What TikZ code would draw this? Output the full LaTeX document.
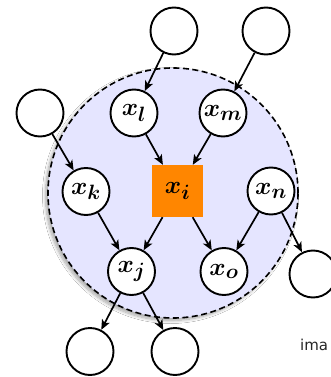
\documentclass[tikz,border=0pt]{standalone}
\usepackage{fontspec}
\newfontfamily\labelfont{DejaVu Sans}
\usetikzlibrary{arrows.meta,shadows.blur}
\DeclareMathSizes{27}{27}{20}{15}
\begin{document}
\begin{tikzpicture}[x=1pt,y=-1pt,
  var/.style={circle,draw=black,line width=1.9pt,fill=white,minimum size=47pt,inner sep=0pt,font=\fontsize{27}{30}\selectfont\boldmath},
  focus/.style={rectangle,fill=orange!95!yellow,minimum width=51pt,minimum height=52pt,inner sep=0pt,font=\fontsize{27}{30}\selectfont\boldmath},
  edge/.style={line width=1.7pt,-{Stealth[length=10pt,width=8.5pt,inset=2.5pt]}},
  blanket/.style={circle,draw=black,dash pattern=on 6pt off 3.5pt,line width=1.6pt,fill=blue!10,minimum size=250pt,inner sep=0pt,
    blur shadow={shadow xshift=-2.5pt,shadow yshift=-2.5pt,shadow blur steps=10,shadow blur radius=3pt,shadow opacity=35}}
]
\useasboundingbox (0,0) rectangle (331,377);
\clip (0,0) rectangle (331,377);
\fill[white] (0,0) rectangle (331,377);
\node[blanket] (mb) at (173,193) {};
\node[var] (t1) at (174,31) {};
\node[var] (t2) at (266,31) {};
\node[var] (t3) at (40,113) {};
\node[var] (xl) at (134,113) {$x_l$};
\node[var] (xm) at (223,113) {$x_m$};
\node[focus] (xi) at (177.5,191) {$x_i$};
\node[var] (xk) at (86,191.5) {$x_k$};
\node[var] (xn) at (271,191) {$x_n$};
\node[var] (xj) at (131.5,271.5) {$x_j$};
\node[var] (xo) at (224,271.5) {$x_o$};
\node[var] (r1) at (313,274) {};
\node[var] (b1) at (90,351.5) {};
\node[var] (b2) at (175,351.5) {};
\draw[edge] (t1) -- (xl);
\draw[edge] (t2) -- (xm);
\draw[edge] (t3) -- (xk);
\draw[edge] (xl) -- (xi);
\draw[edge] (xm) -- (xi);
\draw[edge] (xk) -- (xj);
\draw[edge] (xi) -- (xj);
\draw[edge] (xi) -- (xo);
\draw[edge] (xn) -- (xo);
\draw[edge] (xn) -- (r1);
\draw[edge] (xj) -- (b1);
\draw[edge] (xj) -- (b2);
\node[anchor=base west,inner sep=0pt,font=\labelfont\fontsize{15}{18}\selectfont,text=black!85] (cap) at (300,350) {ima};
\end{tikzpicture}
\end{document}
